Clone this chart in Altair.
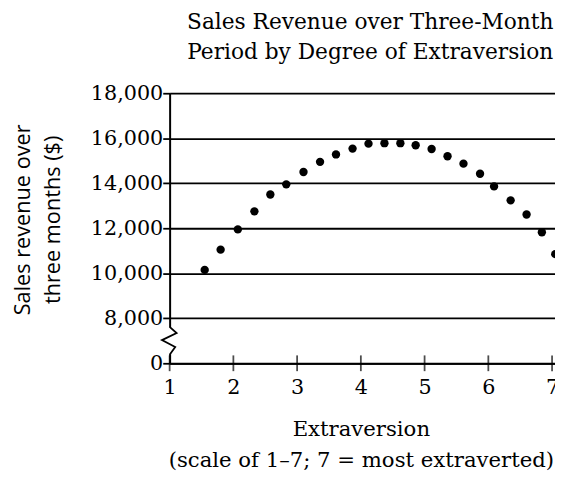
import altair as alt
import pandas as pd

extraversion = [1.55, 1.80, 2.07, 2.33, 2.58, 2.83, 3.10, 3.36, 3.61, 3.87, 4.12, 4.37,
                4.62, 4.86, 5.11, 5.36, 5.61, 5.87, 6.09, 6.35, 6.60, 6.84, 7.05]
revenue = [10150, 11050, 11950, 12750, 13500, 13950, 14500, 14950, 15280, 15540, 15760, 15780,
           15780, 15690, 15520, 15200, 14870, 14420, 13860, 13240, 12610, 11820, 10850]
x_ticks = [1, 2, 3, 4, 5, 6, 7]
y_ticks = [6000, 8000, 10000, 12000, 14000, 16000, 18000]
break_at = [7000]

SERIF = "DejaVu Serif"
SANS = "Open Sans"

df = pd.DataFrame({"x": extraversion, "y": revenue})
ticks_df = pd.DataFrame({"x": x_ticks, "y": [y_ticks[0]] * len(x_ticks)})
brk_df = pd.DataFrame({"x": [x_ticks[0]], "y": break_at, "y1": [break_at[0] - 600], "y2": [break_at[0] + 600]})

xscale = alt.Scale(domain=[1, 7.046], nice=False, zero=False)
yscale = alt.Scale(domain=[6000, 18000], nice=False, zero=False)

xaxis = alt.Axis(values=x_ticks, format="d", ticks=False, grid=False, labelFont=SERIF, labelFontSize=21,
                 labelColor="black", labelPadding=14, domainColor="black", domainWidth=2,
                 title=["Extraversion", "(scale of 1–7; 7 = most extraverted)"],
                 titleFont=SERIF, titleFontSize=21.5, titleFontWeight="normal", titleColor="black",
                 titleLineHeight=32, titleX=194, titleY=73, titleBaseline="alphabetic",
                 titleAlign="center", labelFlush=False)
yaxis = alt.Axis(values=y_ticks, labelExpr="datum.value == 6000 ? '0' : format(datum.value, ',')",
                 grid=True, gridColor="black", gridWidth=1.8, gridOpacity=1,
                 tickColor="black", tickSize=7, tickWidth=1.8, labelPadding=0,
                 labelFont=SERIF, labelFontSize=21, labelColor="black",
                 domainColor="black", domainWidth=2,
                 title=["Sales revenue over", "three months ($)"], titleFont=SANS, titleFontSize=22,
                 titleFontWeight="normal", titleColor="black", titleLineHeight=30,
                 titleX=-149, titleY=128, titleAngle=-90, titleBaseline="middle", titleAlign="center")

points = alt.Chart(df).mark_circle(size=72, color="black", opacity=1, clip=True).encode(
    x=alt.X("x:Q", scale=xscale, axis=xaxis),
    y=alt.Y("y:Q", scale=yscale, axis=yaxis),
)

xt = alt.Chart(ticks_df).mark_tick(color="black", thickness=1.8, size=16, orient="vertical").encode(
    x=alt.X("x:Q", scale=xscale), y=alt.Y("y:Q", scale=yscale)
)

gap = alt.Chart(brk_df).mark_rule(color="white", strokeWidth=5).encode(
    x=alt.X("x:Q", scale=xscale), y=alt.Y("y1:Q", scale=yscale), y2="y2:Q"
)

squiggle = alt.Chart(brk_df).mark_point(
    shape="M0,-1 L0.5,-0.55 L-0.55,-0.05 L0.4,0.45 L0,1",
    size=800, filled=False, color="black", strokeWidth=1.8, opacity=1
).encode(x=alt.X("x:Q", scale=xscale), y=alt.Y("y:Q", scale=yscale))

chart = alt.layer(points, xt, gap, squiggle).properties(
    width=391, height=274,
    title=alt.Title(["Sales Revenue over Three-Month", "Period by Degree of Extraversion"],
                    font=SERIF, fontSize=22, fontWeight="normal", color="black",
                    lineHeight=30, anchor="middle", offset=19, dx=8),
    autosize=alt.AutoSizeParams(type="none"),
    padding={"left": 164, "top": 83, "right": 0, "bottom": 118},
).configure_view(stroke=None).configure(background="white")

chart.save("out.html", embed_options={"renderer": "svg", "actions": False})
